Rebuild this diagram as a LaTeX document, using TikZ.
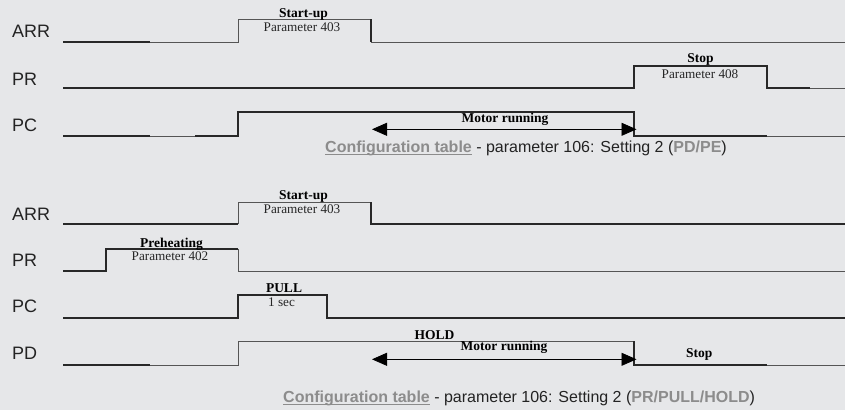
\documentclass[tikz,border=0pt]{standalone}
\usepackage{fontspec}
\setmainfont{Liberation Serif}
\setsansfont{Liberation Sans}
\usepackage{xcolor}
\usetikzlibrary{arrows.meta}
\definecolor{bgpanel}{RGB}{230,231,233}
\definecolor{wire}{RGB}{40,40,40}
\definecolor{wirelight}{RGB}{85,85,85}
\definecolor{linkgray}{RGB}{140,140,140}
\definecolor{captext}{RGB}{35,35,35}
% underlined link text, rule close under the baseline
\newcommand{\cfglink}[1]{\setbox0\hbox{#1}\rlap{\raisebox{-2.6pt}{\rule{\wd0}{1.2pt}}}\box0}

\begin{document}
\begin{tikzpicture}[
			     x=1pt, y=-1pt,
			     sig/.style={draw=wire, line width=1.6pt},
			     sigthin/.style={draw=wirelight, line width=0.8pt},
			     chan/.style={anchor=base west, inner sep=0pt, text=captext, font=\sffamily\fontsize{18}{20}\selectfont},
			     head/.style={anchor=base, inner sep=0pt, text=black, font=\bfseries\fontsize{13.5}{15}\selectfont},
			     param/.style={anchor=base, inner sep=0pt, text=black!85, font=\fontsize{13.2}{15}\selectfont},
			     caption/.style={anchor=base west, inner sep=0pt, text=captext, font=\sffamily\fontsize{16}{18}\selectfont},
			     span/.style={{Triangle[length=15pt,width=13pt]}-{Triangle[length=15pt,width=13pt]}, draw=black, line width=0.8pt}
			     ]
\fill[bgpanel] (0,0) rectangle (845,410);
\useasboundingbox (0,0) rectangle (845,410);
%% first chart: PD/PE
\node[chan] (arrA) at (12,37) {ARR};
\node[chan] (prA) at (12,85) {PR};
\node[chan] (pcA) at (12,131.5) {PC};
\draw[sig] (63,42) -- (150,42);
\draw[sigthin] (150,42) -- (238,42) -- (238,19) -- (371,19);
\draw[sig] (371,19) -- (371,42);
\draw[sigthin] (371,42) -- (845,42);
\draw[sig] (63,88) -- (634,88) -- (634,66) -- (767,66) -- (767,88) -- (810,88);
\draw[sigthin] (810,88) -- (845,88);
\draw[sig] (63,136) -- (150,136);
\draw[sigthin] (150,136) -- (195,136);
\draw[sig] (195,136) -- (238,136) -- (238,112) -- (634,112) -- (634,136) -- (767,136);
\draw[sigthin] (767,136) -- (845,136);
\node[head] (startA) at (303.5,17.5) {Start-up};
\node[param] (parA) at (302,31) {Parameter 403};
\node[head] (stopA) at (700.5,62) {Stop};
\node[param] (parB) at (700,78.5) {Parameter 408};
\node[head] (runA) at (505,122) {Motor running};
\coordinate (runAl) at (372,129.3);
\coordinate (runAr) at (636.5,129.3);
\draw[span] (runAl) -- (runAr);
\node[caption] (capA) at (325,152.5) {\textcolor{linkgray}{\bfseries\cfglink{Configuration table}} - parameter 106: Setting 2 (\textcolor{linkgray}{\bfseries PD/PE})};
%% second chart: PR/PULL/HOLD
\node[chan] (arrB) at (12,220) {ARR};
\node[chan] (prB) at (12,266.5) {PR};
\node[chan] (pcB) at (12,312.5) {PC};
\node[chan] (pdB) at (12,359) {PD};
\draw[sig] (63,224) -- (238,224);
\draw[sigthin] (238,224) -- (238,202) -- (371,202);
\draw[sig] (371,202) -- (371,224) -- (845,224);
\draw[sig] (63,271) -- (106,271) -- (106,249) -- (238,249);
\draw[sigthin] (238,249) -- (238,271) -- (845,271);
\draw[sig] (63,318) -- (238,318) -- (238,295) -- (327,295) -- (327,318) -- (845,318);
\draw[sig] (63,365) -- (150,365);
\draw[sigthin] (150,365) -- (238,365) -- (238,341) -- (634,341);
\draw[sig] (634,341) -- (634,365) -- (767,365);
\draw[sigthin] (767,365) -- (845,365);
\node[head] (startB) at (303.5,199.5) {Start-up};
\node[param] (parC) at (302,213) {Parameter 403};
\node[head] (preB) at (171.5,247) {Preheating};
\node[param] (parD) at (170,260.5) {Parameter 402};
\node[head] (pullB) at (284,292) {PULL};
\node[param, anchor=base west] (secB) at (268,306) {1 sec};
\node[head] (holdB) at (434.5,339.7) {HOLD};
\node[head] (runB) at (504,350.5) {Motor running};
\node[head] (stopB) at (699.3,357.2) {Stop};
\coordinate (runBl) at (372,359.3);
\coordinate (runBr) at (636.5,359.3);
\draw[span] (runBl) -- (runBr);
\node[caption] (capB) at (283,402.5) {\textcolor{linkgray}{\bfseries\cfglink{Configuration table}} - parameter 106: Setting 2 (\textcolor{linkgray}{\bfseries PR/PULL/HOLD})};
\end{tikzpicture}
\end{document}
